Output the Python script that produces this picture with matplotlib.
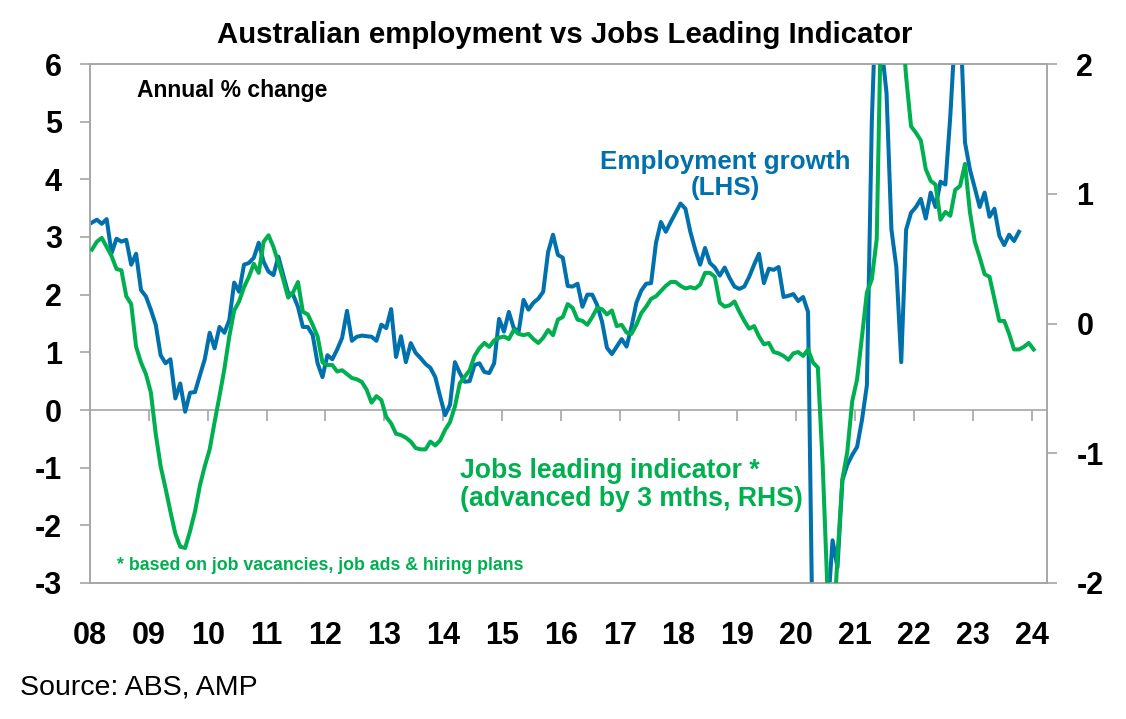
import numpy as np
import matplotlib.pyplot as plt
from matplotlib.markers import TICKDOWN

plt.rcParams['font.family'] = ['Liberation Sans', 'DejaVu Sans']
plt.rcParams['font.weight'] = 'bold'

# monthly data, first point Jan 2008
start_year = 2008

# Employment growth, annual % change (LHS)
employment = [
    3.25, 3.30, 3.23, 3.31, 2.72, 2.97, 2.92, 2.95, 2.52, 2.71,
    2.08, 1.97, 1.74, 1.48, 0.95, 0.81, 0.88, 0.20, 0.46, -0.03,
    0.30, 0.31, 0.60, 0.88, 1.34, 1.07, 1.44, 1.34, 1.56, 2.21,
    2.05, 2.52, 2.55, 2.64, 2.90, 2.57, 2.40, 2.34, 2.66, 2.34,
    2.03, 2.00, 1.79, 1.44, 1.44, 1.30, 0.81, 0.57, 0.95, 0.88,
    1.05, 1.25, 1.72, 1.20, 1.27, 1.29, 1.28, 1.27, 1.20, 1.48,
    1.42, 1.75, 0.92, 1.28, 0.83, 1.16, 0.99, 0.90, 0.80, 0.73,
    0.57, 0.23, -0.09, 0.09, 0.83, 0.64, 0.49, 0.50, 0.78, 0.81,
    0.66, 0.64, 0.81, 1.58, 1.36, 1.70, 1.42, 1.36, 1.91, 1.74,
    1.86, 1.93, 2.05, 2.74, 3.04, 2.69, 2.64, 2.15, 2.14, 2.19,
    1.79, 2.00, 2.00, 1.82, 1.53, 1.08, 0.97, 1.10, 1.23, 1.10,
    1.44, 1.86, 2.07, 2.19, 2.20, 2.90, 3.26, 3.09, 3.26, 3.42,
    3.58, 3.49, 3.09, 2.78, 2.52, 2.81, 2.55, 2.47, 2.33, 2.47,
    2.29, 2.14, 2.10, 2.14, 2.31, 2.52, 2.71, 2.20, 2.45, 2.43,
    2.48, 1.96, 1.98, 2.01, 1.89, 1.96, 1.70, -4.5, -6.3, -5.5,
    -3.5, -2.26, -2.73, -1.22, -0.95, -0.78, -0.64, -0.17, 0.43, 5.0,
    7.5, 6.3, 5.5, 3.13, 2.48, 0.83, 3.13, 3.42, 3.52, 3.66,
    3.32, 3.77, 3.52, 3.96, 3.91, 5.09, 6.6, 6.9, 4.64, 4.17,
    3.85, 3.52, 3.77, 3.35, 3.49, 3.02, 2.86, 3.04, 2.93, 3.09,
]

# Jobs leading indicator, advanced 3 months (RHS)
jobs_indicator = [
    0.57, 0.63, 0.66, 0.59, 0.52, 0.42, 0.41, 0.21, 0.15, -0.18,
    -0.30, -0.39, -0.53, -0.85, -1.10, -1.27, -1.45, -1.62, -1.72, -1.73,
    -1.60, -1.45, -1.25, -1.10, -0.97, -0.76, -0.56, -0.35, -0.10, 0.10,
    0.17, 0.28, 0.36, 0.46, 0.39, 0.63, 0.68, 0.59, 0.47, 0.34,
    0.20, 0.24, 0.32, 0.09, 0.07, -0.01, -0.10, -0.30, -0.32, -0.32,
    -0.37, -0.36, -0.39, -0.42, -0.43, -0.45, -0.51, -0.61, -0.56, -0.59,
    -0.72, -0.77, -0.85, -0.86, -0.88, -0.91, -0.96, -0.97, -0.97, -0.91,
    -0.94, -0.90, -0.82, -0.76, -0.64, -0.46, -0.41, -0.36, -0.25, -0.19,
    -0.15, -0.18, -0.13, -0.11, -0.10, -0.12, -0.05, -0.08, -0.09, -0.08,
    -0.12, -0.15, -0.11, -0.05, -0.09, 0.03, 0.05, 0.15, 0.12, 0.03,
    0.02, -0.01, 0.05, 0.12, 0.11, 0.07, 0.10, -0.02, -0.01, -0.07,
    -0.08, -0.01, 0.08, 0.13, 0.19, 0.21, 0.25, 0.29, 0.32, 0.32,
    0.29, 0.27, 0.28, 0.27, 0.30, 0.39, 0.39, 0.36, 0.16, 0.13,
    0.14, 0.17, 0.09, 0.02, -0.04, -0.02, -0.10, -0.16, -0.15, -0.22,
    -0.23, -0.25, -0.28, -0.23, -0.22, -0.25, -0.20, -0.30, -0.34, -1.10,
    -2.1, -2.5, -1.8, -1.20, -0.99, -0.60, -0.43, -0.10, 0.24, 0.34,
    0.65, 2.6, 3.2, 3.0, 2.8, 2.4, 1.9, 1.52, 1.47, 1.41,
    1.19, 1.10, 1.07, 0.80, 0.86, 0.83, 1.03, 1.06, 1.23, 0.86,
    0.63, 0.51, 0.38, 0.36, 0.19, 0.02, 0.02, -0.08, -0.20, -0.20,
    -0.18, -0.15, -0.20,
]

year_ticks = list(range(2008, 2025))
year_labels = ['08', '09', '10', '11', '12', '13', '14', '15', '16',
               '17', '18', '19', '20', '21', '22', '23', '24']
lhs_ticks = [-3, -2, -1, 0, 1, 2, 3, 4, 5, 6]
rhs_ticks = [-2, -1, 0, 1, 2]

BLUE = '#0071AD'
GREEN = '#00B050'
GREY = '#A6A6A6'

W, H = 1126, 719
fig = plt.figure(figsize=(W / 100, H / 100), dpi=100)
ax = fig.add_axes([90 / W, 1 - 583 / H, (1047 - 90) / W, (583 - 64) / H])
ax2 = ax.twinx()

x_emp = start_year + (np.arange(len(employment)) + 0.4) / 12
x_jli = start_year + (np.arange(len(jobs_indicator)) + 0.4) / 12

# zero line with year ticks hanging below it
ax.axhline(0, color=GREY, lw=1.2, zorder=1)
ax.plot(year_ticks[1:], [0] * len(year_ticks[1:]), ls='none',
        marker=TICKDOWN, ms=8, mew=1.2, color=GREY, zorder=1)

ax.plot(x_emp, employment, color=BLUE, lw=2.9, zorder=3)
ax2.plot(x_jli, jobs_indicator, color=GREEN, lw=2.9, zorder=3)

ax.set_xlim(2008, 2024.26)
ax.set_ylim(-3, 6)
ax2.set_ylim(-2, 2)

for a in (ax, ax2):
    for s in a.spines.values():
        s.set_color(GREY)
        s.set_linewidth(1.2)

ax.set_xticks(year_ticks)
ax.set_xticklabels(year_labels)
ax.tick_params(axis='x', length=0, pad=27, labelsize=22)
ax.set_yticks(lhs_ticks)
ax.set_yticklabels([str(t) for t in lhs_ticks])
ax.tick_params(axis='y', direction='out', length=7.2, width=1.2, color=GREY,
               labelsize=22, pad=13)
ax2.set_yticks(rhs_ticks)
ax2.set_yticklabels([str(t) for t in rhs_ticks])
ax2.tick_params(axis='y', direction='out', length=7.2, width=1.2, color=GREY,
                labelsize=22, pad=14)

fig.text(565 / W, 1 - 35 / H, 'Australian employment vs Jobs Leading Indicator',
         ha='center', va='center', fontsize=21.2)
fig.text(137 / W, 1 - 91 / H, 'Annual % change', ha='left', va='center',
         fontsize=16.5)
fig.text(725 / W, 1 - 175 / H, 'Employment growth\n(LHS)', ha='center',
         va='center', fontsize=18.7, color=BLUE, linespacing=1.1)
fig.text(460 / W, 1 - 485 / H, 'Jobs leading indicator *\n(advanced by 3 mths, RHS)',
         ha='left', va='center', fontsize=19.2, color=GREEN, linespacing=1.05)
fig.text(117 / W, 1 - 565 / H, '* based on job vacancies, job ads & hiring plans',
         ha='left', va='center', fontsize=12.8, color=GREEN)
fig.text(20 / W, 1 - 688 / H, 'Source: ABS, AMP', ha='left', va='center',
         fontsize=20.5, fontweight='normal')

fig.savefig('out.png', dpi=100)
